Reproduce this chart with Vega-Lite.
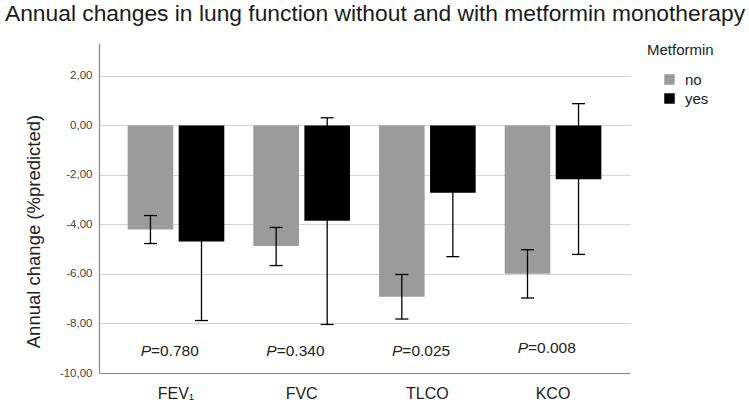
{
  "$schema": "https://vega.github.io/schema/vega-lite/v6.json",
  "width": 531,
  "height": 330,
  "autosize": {"type": "none"},
  "padding": {"left": 99, "top": 43, "right": 119, "bottom": 32},
  "background": "white",
  "config": {
    "font": "Liberation Sans",
    "view": {"stroke": null},
    "axis": {"labelFont": "Liberation Sans", "titleFont": "Liberation Sans"},
    "legend": {"labelFont": "Liberation Sans", "titleFont": "Liberation Sans"}
  },
  "title": {
    "text": "Annual changes in lung function without and with metformin monotherapy",
    "fontSize": 22.8,
    "fontWeight": "normal",
    "color": "#1a1a1a",
    "anchor": "middle",
    "frame": "bounds",
    "dx": 6,
    "offset": 17
  },
  "datasets": {
    "bars": [
      {"test": "FEV₁", "metformin": "no", "mean": -4.20, "lo": -4.77, "hi": -3.64},
      {"test": "FEV₁", "metformin": "yes", "mean": -4.69, "lo": -7.88, "hi": -1.50},
      {"test": "FVC", "metformin": "no", "mean": -4.87, "lo": -5.66, "hi": -4.12},
      {"test": "FVC", "metformin": "yes", "mean": -3.85, "lo": -8.04, "hi": 0.31},
      {"test": "TLCO", "metformin": "no", "mean": -6.92, "lo": -7.82, "hi": -6.02},
      {"test": "TLCO", "metformin": "yes", "mean": -2.72, "lo": -5.30, "hi": -0.14},
      {"test": "KCO", "metformin": "no", "mean": -5.99, "lo": -6.97, "hi": -5.02},
      {"test": "KCO", "metformin": "yes", "mean": -2.17, "lo": -5.21, "hi": 0.88}
    ],
    "pvals": [
      {"test": "FEV₁", "p": "=0.780", "ylab": -9.1},
      {"test": "FVC", "p": "=0.340", "ylab": -9.1},
      {"test": "TLCO", "p": "=0.025", "ylab": -9.1},
      {"test": "KCO", "p": "=0.008", "ylab": -9.0}
    ]
  },
  "layer": [
    {
      "data": {"name": "bars"},
      "mark": {"type": "bar"},
      "encoding": {
        "x": {
          "field": "test", "type": "nominal", "sort": ["FEV₁", "FVC", "TLCO", "KCO"],
          "scale": {"paddingInner": 0.231, "paddingOuter": 0.228},
          "axis": {
            "title": null, "labelAngle": 0, "labelFontSize": 16, "labelColor": "#222222",
            "ticks": false, "labelPadding": 12, "domainColor": "#888888", "domainWidth": 1.2,
            "grid": false
          }
        },
        "xOffset": {
          "field": "metformin", "type": "nominal", "sort": ["no", "yes"],
          "scale": {"paddingInner": 0.106, "paddingOuter": 0}
        },
        "y": {
          "field": "mean", "type": "quantitative",
          "scale": {"domain": [-10, 3.33], "nice": false, "zero": false},
          "axis": {
            "title": "Annual change (%predicted)", "titleFontSize": 18.5, "titleFontWeight": "normal",
            "titleColor": "#222222", "titleX": -66, "titleY": 188,
            "titleAlign": "center", "titleBaseline": "middle", "titleAngle": -90,
            "values": [-10, -8, -6, -4, -2, 0, 2],
            "labelExpr": "replace(replace(format(datum.value, '.2f'), '.', ','), '−', '-')",
            "labelFontSize": 11.5, "labelColor": "#444444", "ticks": false, "labelPadding": 7,
            "domainColor": "#888888", "domainWidth": 1.2,
            "grid": true, "gridColor": "#d4d4d4", "gridWidth": 1.2
          }
        },
        "color": {
          "field": "metformin", "type": "nominal",
          "scale": {"domain": ["no", "yes"], "range": ["#9b9b9b", "#000000"]},
          "legend": {
            "title": "Metformin", "orient": "right", "offset": 17,
            "titleFontSize": 15, "titleFontWeight": "normal", "titleColor": "#222222",
            "labelFontSize": 15, "labelColor": "#222222",
            "symbolType": "square", "symbolSize": 110, "symbolStrokeWidth": 0,
            "symbolOffset": 15, "labelOffset": 8, "rowPadding": 3, "titlePadding": 14
          }
        }
      }
    },
    {
      "data": {"name": "bars"},
      "mark": {"type": "rule", "color": "#000000", "strokeWidth": 1.3},
      "encoding": {
        "x": {"field": "test", "type": "nominal", "sort": ["FEV₁", "FVC", "TLCO", "KCO"]},
        "xOffset": {"field": "metformin", "type": "nominal", "sort": ["no", "yes"]},
        "y": {"field": "lo", "type": "quantitative"},
        "y2": {"field": "hi"}
      }
    },
    {
      "data": {"name": "bars"},
      "mark": {"type": "tick", "color": "#000000", "thickness": 1.3, "size": 13, "opacity": 1},
      "encoding": {
        "x": {"field": "test", "type": "nominal", "sort": ["FEV₁", "FVC", "TLCO", "KCO"]},
        "xOffset": {"field": "metformin", "type": "nominal", "sort": ["no", "yes"]},
        "y": {"field": "lo", "type": "quantitative"}
      }
    },
    {
      "data": {"name": "bars"},
      "mark": {"type": "tick", "color": "#000000", "thickness": 1.3, "size": 13, "opacity": 1},
      "encoding": {
        "x": {"field": "test", "type": "nominal", "sort": ["FEV₁", "FVC", "TLCO", "KCO"]},
        "xOffset": {"field": "metformin", "type": "nominal", "sort": ["no", "yes"]},
        "y": {"field": "hi", "type": "quantitative"}
      }
    },
    {
      "data": {"name": "pvals"},
      "mark": {"type": "text", "text": "P", "fontStyle": "italic", "fontSize": 15.5, "align": "right", "baseline": "middle", "dx": -25, "color": "#222222"},
      "encoding": {
        "x": {"field": "test", "type": "nominal", "sort": ["FEV₁", "FVC", "TLCO", "KCO"]},
        "y": {"field": "ylab", "type": "quantitative"}
      }
    },
    {
      "data": {"name": "pvals"},
      "mark": {"type": "text", "fontSize": 15.5, "align": "left", "baseline": "middle", "dx": -25, "color": "#222222"},
      "encoding": {
        "x": {"field": "test", "type": "nominal", "sort": ["FEV₁", "FVC", "TLCO", "KCO"]},
        "y": {"field": "ylab", "type": "quantitative"},
        "text": {"field": "p"}
      }
    }
  ]
}
